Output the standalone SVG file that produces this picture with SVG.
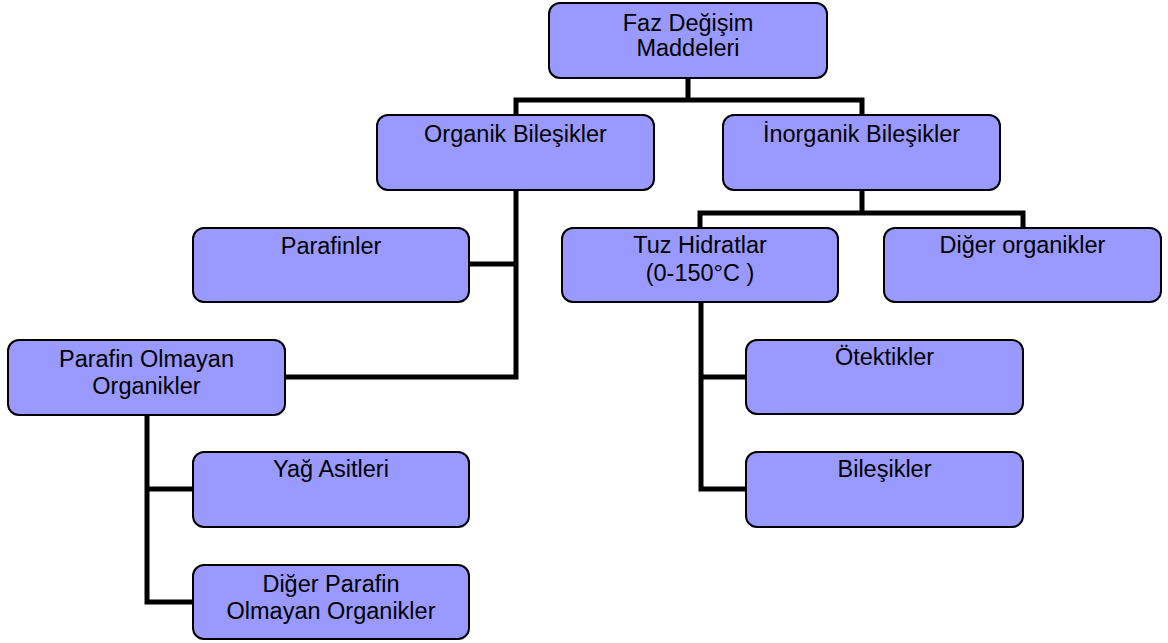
<svg xmlns="http://www.w3.org/2000/svg" width="1168" height="643" viewBox="0 0 1168 643">
<style>
.box{fill:#9999FF;stroke:#000;stroke-width:2}
.t{font-family:"Liberation Sans",Arial,sans-serif;font-size:23.5px;fill:#000;text-anchor:middle}
.c{fill:none;stroke:#000;stroke-width:5;stroke-linejoin:miter}
</style>
<rect width="1168" height="643" fill="#fff"/>
<g id="connectors">
<path class="c" d="M688,78V100M516,115V100H862V115"/>
<path class="c" d="M862,190V213M700,228V213H1023V228"/>
<path class="c" d="M469,264H516V377H285M516,190V264"/>
<path class="c" d="M147,415V602H193M147,489H193"/>
<path class="c" d="M701,302V489H746M701,377H746"/>
</g>
<g id="n-root"><rect class="box" x="549" y="3" width="278" height="75" rx="11"/><text class="t" x="688" y="31">Faz Değişim</text><text class="t" x="688" y="56">Maddeleri</text></g>
<g id="n-organik"><rect class="box" x="377" y="115" width="277" height="75" rx="11"/><text class="t" x="515.5" y="142">Organik Bileşikler</text></g>
<g id="n-inorganik"><rect class="box" x="723" y="115" width="277" height="75" rx="11"/><text class="t" x="861.5" y="142">İnorganik Bileşikler</text></g>
<g id="n-parafinler"><rect class="box" x="193" y="228" width="276" height="74" rx="11"/><text class="t" x="331" y="254">Parafinler</text></g>
<g id="n-tuz"><rect class="box" x="562" y="228" width="276" height="74" rx="11"/><text class="t" x="700" y="253">Tuz Hidratlar</text><text class="t" x="700" y="281">(0-150°C )</text></g>
<g id="n-diger-org"><rect class="box" x="884" y="228" width="277" height="74" rx="11"/><text class="t" x="1022.5" y="253">Diğer organikler</text></g>
<g id="n-parafin-olmayan"><rect class="box" x="8" y="340" width="277" height="75" rx="11"/><text class="t" x="146.5" y="367">Parafin Olmayan</text><text class="t" x="146.5" y="394">Organikler</text></g>
<g id="n-otektikler"><rect class="box" x="746" y="340" width="277" height="74" rx="11"/><text class="t" x="884.5" y="365">Ötektikler</text></g>
<g id="n-yag"><rect class="box" x="193" y="452" width="276" height="75" rx="11"/><text class="t" x="331" y="477">Yağ Asitleri</text></g>
<g id="n-bilesikler"><rect class="box" x="746" y="452" width="277" height="75" rx="11"/><text class="t" x="884.5" y="477">Bileşikler</text></g>
<g id="n-diger-parafin"><rect class="box" x="193" y="565" width="276" height="74" rx="11"/><text class="t" x="331" y="592">Diğer Parafin</text><text class="t" x="331" y="619">Olmayan Organikler</text></g>
</svg>
